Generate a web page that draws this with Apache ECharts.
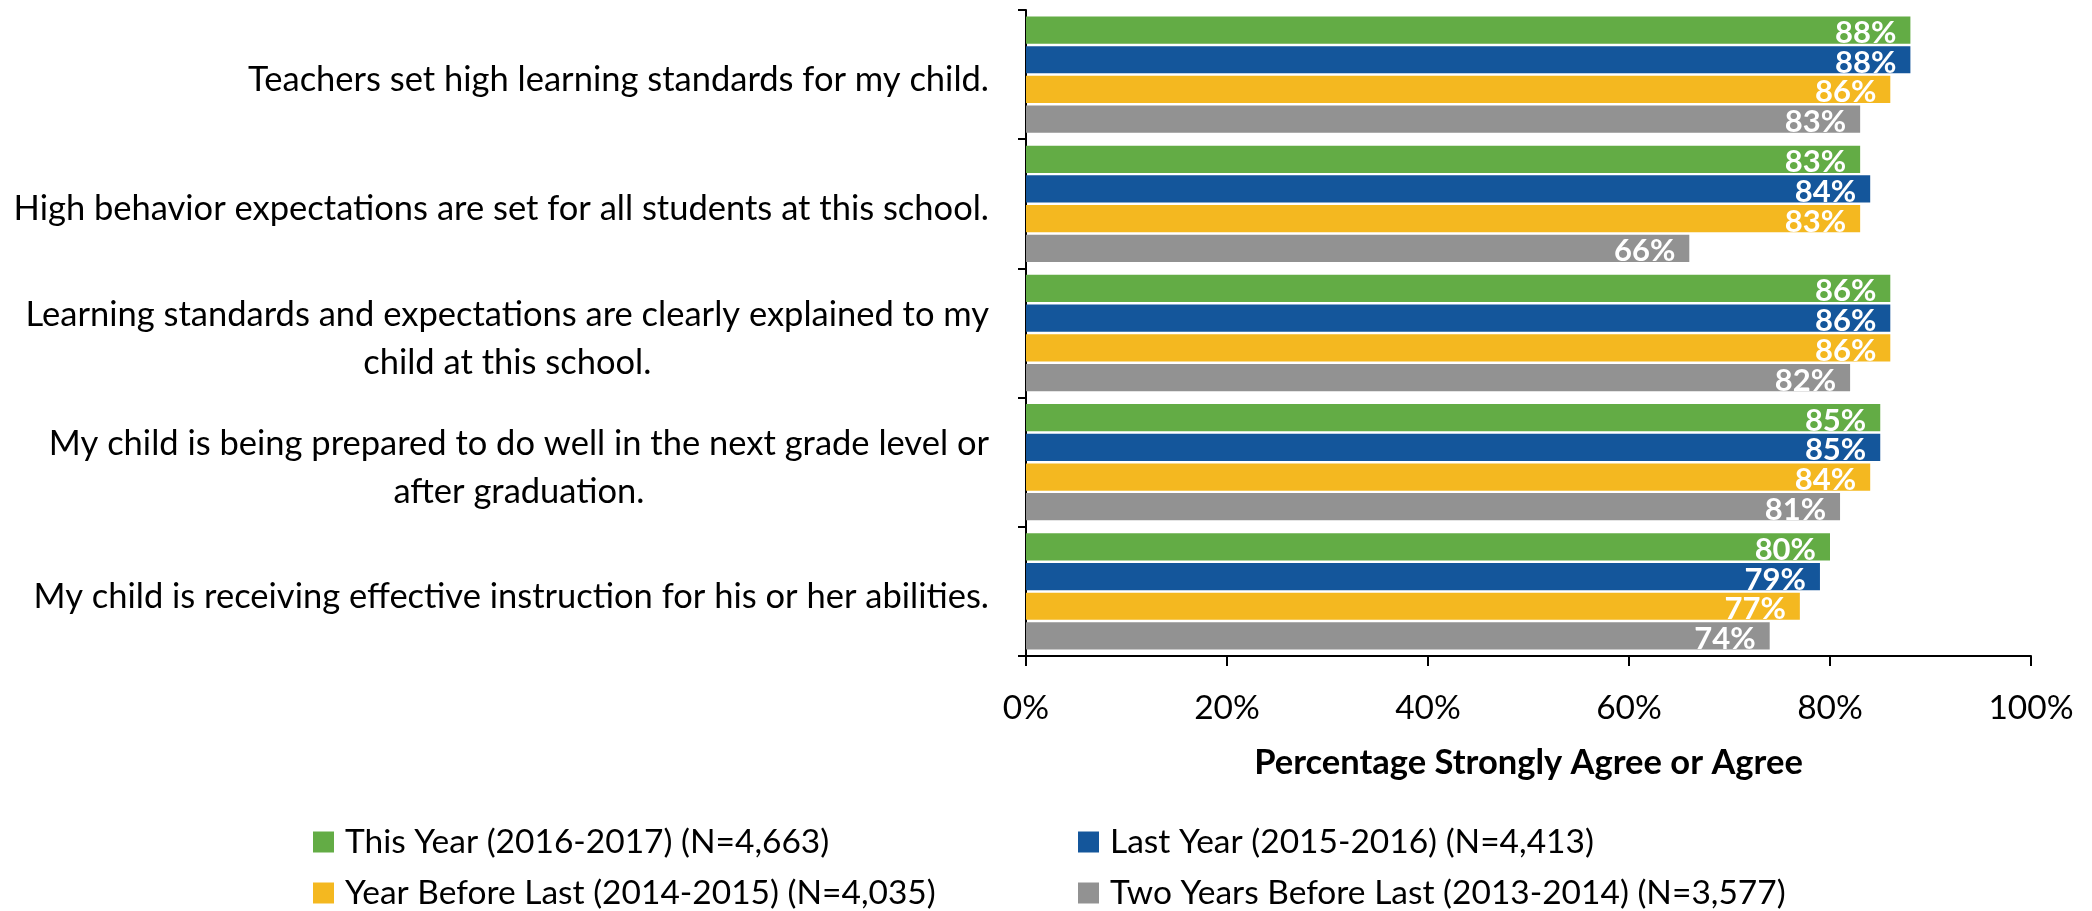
<!DOCTYPE html>
<html>
<head>
<meta charset="utf-8">
<style>
html,body{margin:0;padding:0;background:#fff;}
#chart{width:2092px;height:911px;}
</style>
<script src="https://cdn.jsdelivr.net/npm/echarts@6/dist/echarts.min.js"></script>
</head>
<body>
<div id="chart"></div>
<script>
const categories = [
  "Teachers set high learning standards for my child.",
  "High behavior expectations are set for all students at this school.",
  "Learning standards and expectations are clearly explained to my\nchild at this school.",
  "My child is being prepared to do well in the next grade level or\nafter graduation.",
  "My child is receiving effective instruction for his or her abilities."
];
const seriesNames = [
  "This Year (2016-2017) (N=4,663)",
  "Last Year (2015-2016) (N=4,413)",
  "Year Before Last (2014-2015) (N=4,035)",
  "Two Years Before Last (2013-2014) (N=3,577)"
];
const thisYear = [88, 83, 86, 85, 80];
const lastYear = [88, 84, 86, 85, 79];
const yearBeforeLast = [86, 83, 86, 84, 77];
const twoYearsBeforeLast = [83, 66, 82, 81, 74];
const xTicks = [0, 20, 40, 60, 80, 100];
const axisTitle = "Percentage Strongly Agree or Agree";

const colors = ["#63AC45", "#14569B", "#F4B820", "#929292"];
const values = [thisYear, lastYear, yearBeforeLast, twoYearsBeforeLast];
const FONT = "Lato";

const chart = echarts.init(document.getElementById('chart'), null, {renderer: 'canvas'});

const series = values.map((v, i) => ({
  name: seriesNames[i],
  type: 'bar',
  data: v,
  barGap: '9%',
  barCategoryGap: '10%',
  itemStyle: { color: colors[i] },
  label: {
    show: true,
    position: 'insideRight',
    distance: 14,
    offset: [0, 3],
    formatter: p => p.value + '%',
    color: '#fff',
    fontFamily: FONT,
    fontWeight: 'bold',
    fontSize: 31
  }
}));

const legendPos = [
  {left: 313, top: 825},
  {left: 1078, top: 825},
  {left: 313, top: 876},
  {left: 1078, top: 876}
];
const legends = seriesNames.map((n, i) => ({
  data: [n],
  left: legendPos[i].left,
  top: legendPos[i].top,
  icon: 'rect',
  itemWidth: 21,
  itemHeight: 21,
  padding: 0,
  selectedMode: false,
  textStyle: {
    color: '#000',
    fontFamily: FONT,
    fontSize: 33.5,
    lineHeight: 34,
    padding: [0, 0, 0, 6]
  }
}));

chart.setOption({
  animation: false,
  backgroundColor: '#fff',
  grid: { left: 1026, right: 61, top: 10, bottom: 255, containLabel: false },
  legend: legends,
  xAxis: {
    type: 'value',
    min: xTicks[0],
    max: xTicks[xTicks.length - 1],
    interval: xTicks[1] - xTicks[0],
    name: axisTitle,
    nameLocation: 'middle',
    nameGap: 89,
    nameTextStyle: { color: '#000', fontFamily: FONT, fontWeight: 'bold', fontSize: 34.5 },
    splitLine: { show: false },
    axisLine: { show: true, lineStyle: { color: '#000', width: 2 } },
    axisTick: { show: true, length: 10, lineStyle: { color: '#000', width: 2 } },
    axisLabel: {
      margin: 35,
      color: '#000',
      fontFamily: FONT,
      fontSize: 33.5,
      formatter: v => v + '%'
    }
  },
  yAxis: {
    type: 'category',
    data: categories,
    inverse: true,
    axisLine: { show: true, lineStyle: { color: '#000', width: 2 } },
    axisTick: { show: true, length: 8, lineStyle: { color: '#000', width: 2 } },
    axisLabel: {
      margin: 37,
      color: '#000',
      fontFamily: FONT,
      fontSize: 34.5,
      lineHeight: 48,
      align: 'right',
      padding: [11, 0, 0, 0],
      formatter: v => v.split('\n').map(s => '{c|' + s + '}').join('\n'),
      rich: {
        c: { align: 'center', fontFamily: FONT, fontSize: 34.5, lineHeight: 48, color: '#000' }
      }
    }
  },
  series: series
});
</script>
</body>
</html>
